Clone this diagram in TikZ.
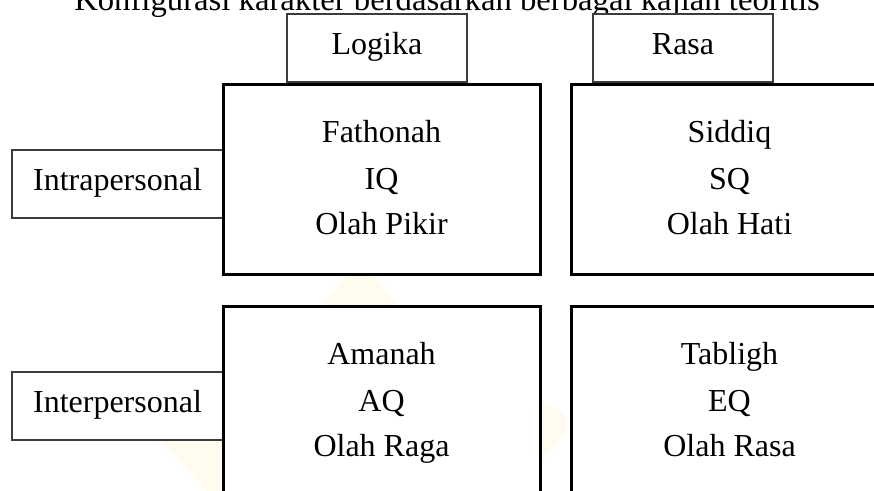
\documentclass[tikz,border=0pt]{standalone}
\usepackage{fontspec}
\setmainfont{Liberation Serif}
\definecolor{wm}{RGB}{255,251,238}
\definecolor{thinline}{RGB}{60,60,60}
\tikzset{
  txt/.style={font=\fontsize{32}{46}\selectfont, inner sep=0pt, anchor=base},
  smallbox/.style={draw=thinline, line width=1.3pt, fill=white, rectangle,
    minimum width=180pt, minimum height=68pt},
  sidebox/.style={smallbox, minimum width=211pt},
  bigbox/.style={draw=black, line width=3pt, fill=white, rectangle,
    minimum width=317pt, minimum height=190pt},
}
\begin{document}
\begin{tikzpicture}[x=1pt,y=-1pt]
\useasboundingbox (0,0) rectangle (874,490);
% faint watermark
\fill[wm, rounded corners=28pt] (360,258) -- (448,366) -- (580,418) -- (478,530)
  -- (490,670) -- (360,625) -- (230,670) -- (242,530) -- (140,418) -- (272,366) -- cycle;
% title
\node[txt, font=\fontsize{32.7}{46}\selectfont] (title) at (447,10.5) {Konfigurasi karakter berdasarkan berbagai kajian teoritis};
% column headers
\node[smallbox] (logika) at (377,48) {};
\node[smallbox] (rasa) at (683,48) {};
\node[txt] (logikat) at ([yshift=-6pt]logika.center) {Logika};
\node[txt] (rasat) at ([yshift=-6pt]rasa.center) {Rasa};
% row headers
\node[sidebox] (intra) at (117.5,184) {};
\node[sidebox] (inter) at (117.5,406) {};
\node[txt] (intrat) at ([yshift=-6pt]intra.center) {Intrapersonal};
\node[txt] (intert) at ([yshift=-6pt]inter.center) {Interpersonal};
% main cells
\node[bigbox] (fath) at (381.5,179.5) {};
\node[bigbox] (sidd) at (729.5,179.5) {};
\node[bigbox] (aman) at (381.5,401.5) {};
\node[bigbox] (tabl) at (729.5,401.5) {};
\foreach \c/\a/\b/\d in {fath/Fathonah/IQ/Olah Pikir, sidd/Siddiq/SQ/Olah Hati,
                        aman/Amanah/AQ/Olah Raga, tabl/Tabligh/EQ/Olah Rasa}{
  \node[txt] (\c1) at ([yshift=-59pt]\c.north) {\a};
  \node[txt] (\c2) at ([yshift=-106pt]\c.north) {\b};
  \node[txt] (\c3) at ([yshift=-151pt]\c.north) {\d};
}
\end{tikzpicture}
\end{document}
